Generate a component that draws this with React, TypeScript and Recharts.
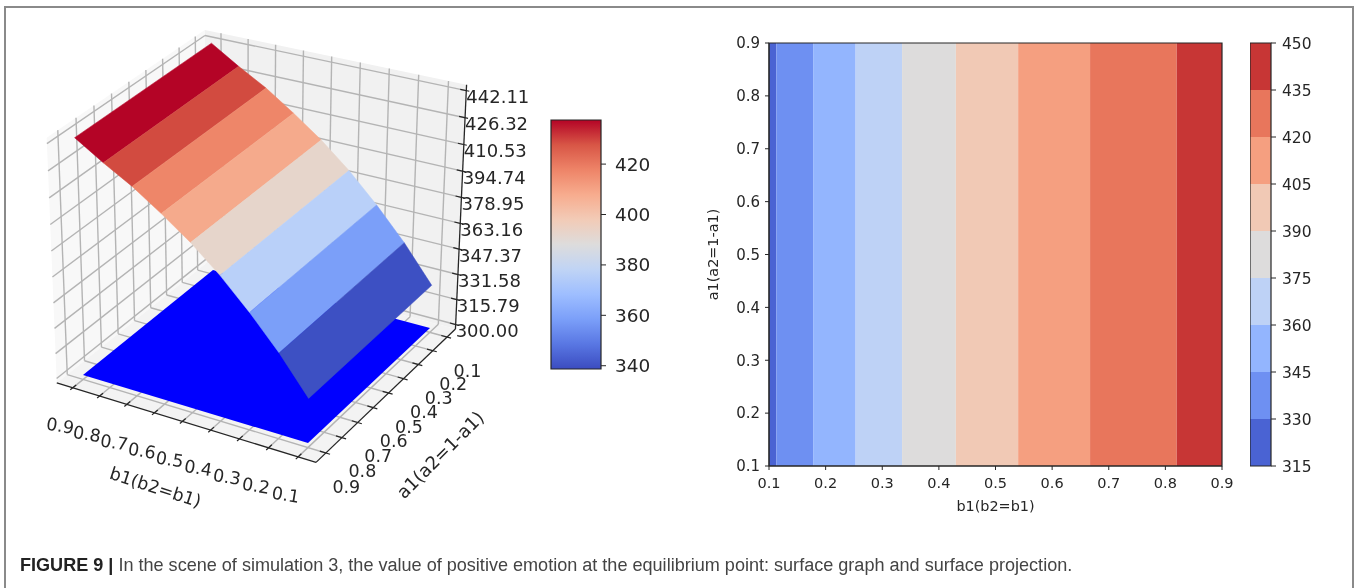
import React from 'react';
import { ScatterChart, Scatter, XAxis, YAxis, ReferenceArea } from 'recharts';

// surface values along b1 (the surface does not vary with a1)
const bValues = [0.9, 0.8, 0.7, 0.6, 0.5, 0.4, 0.3, 0.2, 0.1];
const surfaceZ = [443.5, 433, 423.5, 412, 399.6, 385, 368, 349, 327];
const surfaceColors = ['#b40426', '#d24b40', '#ee8669', '#f5aa8c', '#e6d5cb', '#b9d0f9', '#7b9ff9', '#3d50c3'];
const floorColor = '#0000ff';

const bTicks = [0.9, 0.8, 0.7, 0.6, 0.5, 0.4, 0.3, 0.2, 0.1];
const aTicks = [0.1, 0.2, 0.3, 0.4, 0.5, 0.6, 0.7, 0.8, 0.9];
const zTicks = [300, 315.79, 331.58, 347.37, 363.16, 378.95, 394.74, 410.53, 426.32, 442.11];

const coolwarmStops = ['#3b4cc0', '#5977e3', '#7b9ff9', '#9ebeff', '#c0d4f5', '#dddcdc', '#f2cbb7', '#f7ac8e', '#ee8468', '#d85646', '#b40426'];
const surfaceBarTicks = [340, 360, 380, 400, 420];

// contour plot: where each level crosses b1
const contourEdges = [0.1, 0.113, 0.178, 0.253, 0.335, 0.43, 0.54, 0.667, 0.82, 0.9];
const contourColors = ['#4a63d3', '#6e90f2', '#93b5fe', '#bed2f6', '#dddcdc', '#f1c9b5', '#f59f80', '#e8765c', '#c73635'];
const contourTicks = [0.1, 0.2, 0.3, 0.4, 0.5, 0.6, 0.7, 0.8, 0.9];
const levels = [315, 330, 345, 360, 375, 390, 405, 420, 435, 450];

const FONT = 'DejaVu Sans';
const INK = '#262626';
const GRID = '#b4b4b4';

// camera for the 3d plot, fitted to the floor corners and the vertical vanishing point
const cam = { a: 208.6, b: 144.23, c: 83, d: 44.41, e: -86.96, f: 375, g: -0.05326, h: 0.0668, l: -0.04878, vx: 245, vy: 4956 };
const project = (b: number, a: number, z: number) => {
  const s = (0.9 - b) / 0.8;
  const t = (0.9 - a) / 0.8;
  const zn = (z - 300) / 142.11;
  const w = cam.g * s + cam.h * t + 1 + cam.l * zn;
  return {
    x: (cam.a * s + cam.b * t + cam.c + cam.l * cam.vx * zn) / w,
    y: (cam.d * s + cam.e * t + cam.f + cam.l * cam.vy * zn) / w,
  };
};

// axes box limits
const bHi = 0.96, bLo = 0.04, aHi = 0.96, aLo = 0.04, zLo = 297.2, zHi = 445.5;

const polyLine = (fill: string, stroke = 'none', strokeWidth = 0) => (p: any) => (
  <polygon
    points={p.points.map((q: any) => `${q.x},${q.y}`).join(' ')}
    fill={fill}
    stroke={stroke}
    strokeWidth={strokeWidth}
  />
);

const noShape = () => null;

const Poly3D = (key: string, pts: number[][], fill: string, stroke = 'none', strokeWidth = 0) => (
  <Scatter
    key={key}
    data={pts.map(([b, a, z]) => project(b, a, z))}
    shape={noShape}
    line={polyLine(fill, stroke, strokeWidth)}
    isAnimationActive={false}
  />
);

const Seg3D = (key: string, p: number[], q: number[], stroke: string, strokeWidth: number) => (
  <Scatter
    key={key}
    data={[p, q].map(([b, a, z]) => project(b, a, z))}
    shape={noShape}
    line={{ stroke, strokeWidth }}
    isAnimationActive={false}
  />
);

const textShape = (size: number, anchor: string, angle: number) => (p: any) => {
  const label = p.payload?.label ?? p.label;
  return (
    <text
      x={p.cx}
      y={p.cy}
      fontFamily={FONT}
      fontSize={size}
      fill={INK}
      textAnchor={anchor as any}
      dominantBaseline="central"
      transform={`rotate(${angle} ${p.cx} ${p.cy})`}
    >
      {label}
    </text>
  );
};

const Surface3D = () => (
  <ScatterChart width={545} height={530} margin={{ top: 0, right: 0, bottom: 0, left: 0 }}>
    <XAxis type="number" dataKey="x" domain={[0, 545]} hide />
    <YAxis type="number" dataKey="y" domain={[0, 530]} reversed hide />

    {/* panes */}
    {Poly3D('pane-left', [[bHi, aLo, zLo], [bHi, aHi, zLo], [bHi, aHi, zHi], [bHi, aLo, zHi]], '#f8f8f8')}
    {Poly3D('pane-right', [[bHi, aLo, zLo], [bLo, aLo, zLo], [bLo, aLo, zHi], [bHi, aLo, zHi]], '#f1f1f1')}
    {Poly3D('pane-floor', [[bHi, aHi, zLo], [bLo, aHi, zLo], [bLo, aLo, zLo], [bHi, aLo, zLo]], '#f3f3f3')}

    {/* grid */}
    {bTicks.map((b) => Seg3D(`g-fb-${b}`, [b, aHi, zLo], [b, aLo, zLo], GRID, 1.4))}
    {aTicks.map((a) => Seg3D(`g-fa-${a}`, [bHi, a, zLo], [bLo, a, zLo], GRID, 1.4))}
    {bTicks.map((b) => Seg3D(`g-wb-${b}`, [b, aLo, zLo], [b, aLo, zHi], GRID, 1.4))}
    {aTicks.map((a) => Seg3D(`g-wa-${a}`, [bHi, a, zLo], [bHi, a, zHi], GRID, 1.4))}
    {zTicks.map((z) => Seg3D(`g-zr-${z}`, [bHi, aLo, z], [bLo, aLo, z], GRID, 1.4))}
    {zTicks.map((z) => Seg3D(`g-zl-${z}`, [bHi, aHi, z], [bHi, aLo, z], GRID, 1.4))}

    {/* axis lines and ticks */}
    {Seg3D('ax-b', [bHi, aHi, zLo], [bLo, aHi, zLo], INK, 1.3)}
    {Seg3D('ax-a', [bLo, aHi, zLo], [bLo, aLo, zLo], INK, 1.3)}
    {Seg3D('ax-z', [bLo, aLo, zLo], [bLo, aLo, zHi], INK, 1.3)}
    {bTicks.map((b) => Seg3D(`t-b-${b}`, [b, aHi + 0.014, zLo], [b, aHi - 0.02, zLo], INK, 1.2))}
    {aTicks.map((a) => Seg3D(`t-a-${a}`, [bLo - 0.014, a, zLo], [bLo + 0.02, a, zLo], INK, 1.2))}
    {zTicks.map((z) => Seg3D(`t-z-${z}`, [bLo + 0.02, aLo, z], [bLo - 0.01, aLo, z], INK, 1.2))}

    {/* floor at z = 300, then the surface */}
    {Poly3D('floor', [[0.9, 0.9, 300], [0.1, 0.9, 300], [0.1, 0.1, 300], [0.9, 0.1, 300]], floorColor)}
    {surfaceColors.map((color, i) =>
      Poly3D(
        `band-${i}`,
        [
          [bValues[i], 0.9, surfaceZ[i]],
          [bValues[i + 1], 0.9, surfaceZ[i + 1]],
          [bValues[i + 1], 0.1, surfaceZ[i + 1]],
          [bValues[i], 0.1, surfaceZ[i]],
        ],
        color,
        color,
        0.5,
      ),
    )}

    {/* tick labels */}
    <Scatter
      data={bTicks.map((b) => {
        const p = project(b, aHi, zLo);
        return { x: p.x - 12.5, y: p.y + 38, label: b.toFixed(1) };
      })}
      shape={textShape(17.5, 'middle', 9)}
      isAnimationActive={false}
    />
    <Scatter
      data={aTicks.map((a) => {
        const p = project(bLo, a, zLo);
        return { x: p.x + 20.5, y: p.y + 33.5, label: a.toFixed(1) };
      })}
      shape={textShape(17.5, 'middle', 0)}
      isAnimationActive={false}
    />
    <Scatter
      data={zTicks.map((z) => {
        const p = project(bLo, aLo, z);
        return { x: p.x, y: p.y + 6, label: z.toFixed(2) };
      })}
      shape={textShape(18, 'start', 0)}
      isAnimationActive={false}
    />
    <Scatter
      data={[{ x: project(0.56, aHi, zLo).x - 10, y: project(0.56, aHi, zLo).y + 71, label: 'b1(b2=b1)' }]}
      shape={textShape(17.5, 'middle', 18)}
      isAnimationActive={false}
    />
    <Scatter
      data={[{ x: project(bLo, 0.6, zLo).x + 67, y: project(bLo, 0.6, zLo).y + 47, label: 'a1(a2=1-a1)' }]}
      shape={textShape(18, 'middle', -45)}
      isAnimationActive={false}
    />
  </ScatterChart>
);

const SurfaceBar = () => (
  <ScatterChart width={141} height={290} margin={{ top: 20, right: 0, bottom: 21, left: 21 }}>
    <defs>
      <linearGradient id="coolwarm" x1="0" y1="1" x2="0" y2="0">
        {coolwarmStops.map((c, i) => (
          <stop key={c} offset={i / (coolwarmStops.length - 1)} stopColor={c} />
        ))}
      </linearGradient>
    </defs>
    <XAxis type="number" dataKey="x" domain={[0, 1]} hide />
    <YAxis
      orientation="right"
      type="number"
      dataKey="y"
      domain={[338.7, 437.5]}
      ticks={surfaceBarTicks}
      width={70}
      interval={0}
      tick={{ fontFamily: FONT, fontSize: 18.5, fill: INK }}
      tickSize={5}
      tickMargin={9}
      stroke={INK}
      axisLine={false}
    />
    <ReferenceArea y1={338.7} y2={437.5} fill="url(#coolwarm)" fillOpacity={1} stroke={INK} strokeWidth={1.2} />
    <Scatter data={[{ x: 0, y: 338.7 }, { x: 1, y: 437.5 }]} shape={noShape} isAnimationActive={false} />
  </ScatterChart>
);

const ContourPlot = () => (
  <ScatterChart width={545} height={510} margin={{ top: 23, right: 23, bottom: 4, left: 0 }}>
    <XAxis
      type="number"
      dataKey="b"
      domain={[0.1, 0.9]}
      ticks={contourTicks}
      interval={0}
      height={60}
      tick={{ fontFamily: FONT, fontSize: 14.5, fill: INK }}
      tickFormatter={(v: number) => v.toFixed(1)}
      tickSize={4}
      tickMargin={8}
      stroke={INK}
      label={{ value: 'b1(b2=b1)', position: 'insideBottom', offset: 15, fontFamily: FONT, fontSize: 14.4, fill: INK }}
    />
    <YAxis
      type="number"
      dataKey="a"
      domain={[0.1, 0.9]}
      ticks={contourTicks}
      interval={0}
      width={69}
      tick={{ fontFamily: FONT, fontSize: 15, fill: INK }}
      tickFormatter={(v: number) => v.toFixed(1)}
      tickSize={4}
      tickMargin={5}
      stroke={INK}
      label={{ value: 'a1(a2=1-a1)', angle: -90, position: 'insideLeft', offset: 13, style: { textAnchor: 'middle' }, fontFamily: FONT, fontSize: 14.4, fill: INK }}
    />
    {contourColors.map((color, i) => (
      <ReferenceArea key={color} x1={contourEdges[i]} x2={contourEdges[i + 1]} y1={0.1} y2={0.9} fill={color} fillOpacity={1} stroke="none" />
    ))}
    <ReferenceArea x1={0.1} x2={0.9} y1={0.1} y2={0.9} fill="none" stroke={INK} strokeWidth={1.2} />
    <Scatter data={[{ b: 0.1, a: 0.1 }, { b: 0.9, a: 0.9 }]} shape={noShape} isAnimationActive={false} />
  </ScatterChart>
);

const ContourBar = () => (
  <ScatterChart width={100} height={510} margin={{ top: 23, right: 0, bottom: 64, left: 0 }}>
    <XAxis type="number" dataKey="x" domain={[0, 1]} hide />
    <YAxis
      orientation="right"
      type="number"
      dataKey="y"
      domain={[315, 450]}
      ticks={levels}
      interval={0}
      width={79}
      tick={{ fontFamily: FONT, fontSize: 15.5, fill: INK }}
      tickSize={5}
      tickMargin={6}
      stroke={INK}
      axisLine={false}
    />
    {contourColors.map((color, i) => (
      <ReferenceArea key={color} y1={levels[i]} y2={levels[i + 1]} fill={color} fillOpacity={1} stroke="none" />
    ))}
    <ReferenceArea y1={315} y2={450} fill="none" stroke={INK} strokeWidth={1.2} />
    <Scatter data={[{ x: 0, y: 315 }, { x: 1, y: 450 }]} shape={noShape} isAnimationActive={false} />
  </ScatterChart>
);

const place = (left: number, top: number): React.CSSProperties => ({ position: 'absolute', left, top });

export default function App() {
  return (
    <div style={{ position: 'absolute', left: 0, top: 0, width: 1359, height: 588, background: '#fff', overflow: 'hidden', filter: 'blur(0.35px)' }}>
      <div style={{ position: 'absolute', left: 4, top: 6, width: 1350, height: 700, border: '2px solid #8a8a8a', boxSizing: 'border-box' }} />
      <div style={place(0, 0)}><Surface3D /></div>
      <div style={place(530, 100)}><SurfaceBar /></div>
      <div style={place(700, 20)}><ContourPlot /></div>
      <div style={place(1250, 20)}><ContourBar /></div>
      <div
        style={{
          position: 'absolute',
          left: 20,
          top: 555,
          fontFamily: '"Liberation Sans"',
          fontSize: 18.07,
          lineHeight: '20px',
          color: '#444',
          whiteSpace: 'nowrap',
        }}
      >
        <b style={{ color: '#222' }}>FIGURE 9 |</b> In the scene of simulation 3, the value of positive emotion at the equilibrium point: surface graph and surface projection.
      </div>
    </div>
  );
}
